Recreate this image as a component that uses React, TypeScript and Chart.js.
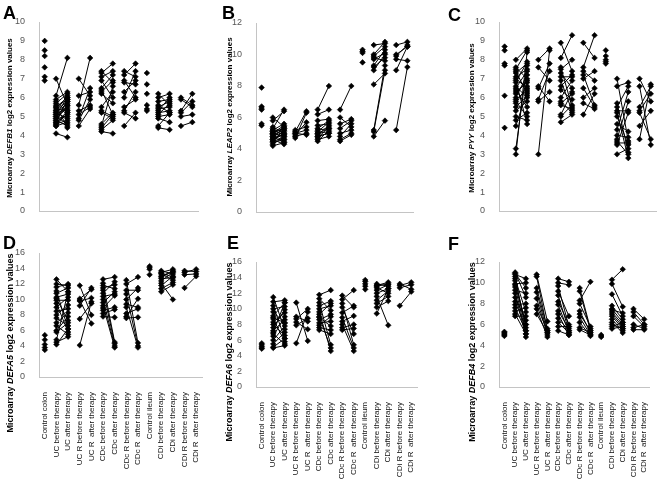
import React, { useEffect, useRef } from "react";
import { Chart, registerables } from "chart.js";

Chart.register(...registerables);

const CATS = [
  "Control colon",
  "UC before therapy",
  "UC after therapy",
  "UC R before therapy",
  "UC R  after therapy",
  "CDc before therapy",
  "CDc after therapy",
  "CDc R before therapy",
  "CDc R  after therapy",
  "Control ileum",
  "CDi before therapy",
  "CDi after therapy",
  "CDi R before therapy",
  "CDi R  after therapy",
];

// ---------- Panel A: DEFB1 ----------
const A_ctrlColon = [9.0, 8.5, 8.2, 7.6, 7.1, 6.9];
const A_ucBefore = [7.0, 6.1, 5.9, 5.8, 5.7, 5.6, 5.5, 5.5, 5.4, 5.3, 5.3, 5.2, 5.2, 5.1, 5.1, 5.0, 5.0, 4.9, 4.9, 4.8, 4.8, 4.7, 4.7, 4.6, 4.6, 4.5, 4.5, 4.1];
const A_ucAfter = [5.6, 8.1, 6.3, 5.2, 6.2, 4.4, 6.0, 5.9, 5.3, 6.1, 5.8, 4.9, 5.7, 6.0, 5.5, 5.4, 4.6, 5.8, 5.0, 5.6, 4.5, 5.9, 5.1, 5.3, 4.8, 4.7, 5.2, 3.9];
const A_ucrBefore = [7.0, 6.1, 5.6, 5.3, 5.1, 4.9, 4.8, 4.5];
const A_ucrAfter = [6.1, 6.3, 8.1, 5.6, 5.5, 6.5, 5.9, 5.4];
const A_cdcBefore = [7.4, 7.3, 7.1, 6.9, 6.5, 6.3, 6.2, 5.5, 5.3, 5.2, 4.6, 4.5, 4.4, 4.3, 4.2, 6.4];
const A_cdcAfter = [6.8, 7.8, 7.4, 6.0, 7.2, 6.9, 5.7, 6.3, 5.0, 4.9, 5.2, 6.6, 5.1, 4.8, 4.1, 5.1];
const A_cdcrBefore = [7.4, 7.2, 6.8, 6.3, 6.0, 5.5, 5.3, 5.2, 4.5, 6.9];
const A_cdcrAfter = [7.1, 7.8, 6.7, 6.9, 7.4, 5.9, 6.3, 4.9, 5.2, 6.0];
const A_ctrlIleum = [7.3, 6.7, 6.2, 5.6, 5.4, 5.3];
const A_cdiBefore = [6.2, 6.0, 5.8, 5.6, 5.5, 5.4, 5.3, 5.2, 5.1, 5.0, 4.9, 4.5, 4.4];
const A_cdiAfter = [5.6, 6.2, 5.9, 5.2, 5.8, 5.5, 6.0, 5.3, 5.7, 5.1, 4.7, 5.2, 4.3];
const A_cdirBefore = [6.0, 5.3, 5.2, 5.0, 4.5, 5.9];
const A_cdirAfter = [5.6, 6.2, 5.8, 5.1, 4.7, 5.5];

// ---------- Panel B: LEAP2 ----------
const B_ctrlColon = [7.9, 6.7, 6.6, 6.5, 5.6, 5.5];
const B_ucBefore = [6.0, 5.8, 5.4, 5.3, 5.2, 5.2, 5.1, 5.1, 5.0, 5.0, 4.9, 4.9, 4.8, 4.8, 4.7, 4.7, 4.6, 4.6, 4.5, 4.5, 4.4, 4.3, 4.2, 5.0];
const B_ucAfter = [5.4, 6.4, 5.0, 6.5, 4.9, 5.6, 4.6, 5.3, 4.8, 5.5, 5.2, 4.5, 5.1, 4.4, 5.4, 4.9, 4.3, 5.0, 5.2, 4.7, 4.6, 4.8, 4.4, 5.3];
const B_ucrBefore = [5.2, 5.1, 5.0, 4.9, 4.8, 4.7, 5.0];
const B_ucrAfter = [5.4, 6.4, 5.2, 5.7, 5.0, 6.3, 4.9];
const B_cdcBefore = [6.5, 6.2, 5.8, 5.5, 5.3, 5.2, 5.1, 5.0, 4.9, 4.8, 4.7, 4.6, 4.5, 5.0, 4.8];
const B_cdcAfter = [8.0, 6.5, 5.9, 5.6, 5.8, 5.3, 5.7, 5.1, 5.5, 5.0, 5.4, 4.8, 5.2, 5.3, 5.0];
const B_cdcrBefore = [6.5, 6.0, 5.6, 5.3, 5.0, 4.8, 4.6, 4.5];
const B_cdcrAfter = [8.0, 5.4, 5.9, 5.8, 5.2, 5.6, 5.0, 4.9];
const B_ctrlIleum = [10.3, 10.2, 10.1, 9.5];
const B_cdiBefore = [10.6, 10.0, 9.9, 9.8, 9.7, 9.3, 9.2, 9.0, 8.1, 5.2, 5.1, 4.8];
const B_cdiAfter = [10.7, 10.8, 10.5, 9.6, 10.1, 10.3, 9.8, 10.0, 8.8, 9.3, 9.0, 5.8];
const B_cdirBefore = [10.6, 10.0, 9.9, 9.7, 9.0, 5.2];
const B_cdirAfter = [10.8, 10.5, 10.6, 9.6, 10.5, 9.2];

// ---------- Panel C: PYY ----------
const C_ctrlColon = [8.7, 8.5, 7.8, 7.7, 6.1, 4.4];
const C_ucBefore = [8.0, 7.6, 7.5, 7.4, 7.3, 7.1, 7.0, 6.8, 6.6, 6.5, 6.4, 6.2, 6.0, 5.9, 5.8, 5.7, 5.5, 5.3, 5.0, 4.8, 4.5, 3.3, 3.0, 6.9, 6.3];
const C_ucAfter = [8.6, 7.0, 8.5, 6.2, 7.8, 7.5, 6.5, 7.9, 6.0, 7.4, 5.5, 6.9, 7.2, 6.4, 5.0, 6.6, 6.1, 5.8, 4.8, 5.2, 6.3, 7.7, 8.4, 4.6, 6.8];
const C_ucrBefore = [8.0, 7.6, 6.5, 5.9, 5.8, 3.0, 6.6];
const C_ucrAfter = [8.6, 6.9, 7.8, 7.4, 6.3, 8.5, 5.8];
const C_cdcBefore = [8.9, 8.1, 7.6, 7.5, 7.3, 7.1, 6.9, 6.6, 6.4, 6.0, 5.8, 5.7, 5.6, 5.1, 5.0, 4.7];
const C_cdcAfter = [7.4, 9.3, 5.5, 8.0, 6.5, 7.1, 5.3, 7.2, 5.9, 6.9, 5.2, 6.2, 5.4, 6.3, 5.6, 5.1];
const C_cdcrBefore = [8.9, 7.6, 7.4, 7.2, 7.0, 6.5, 6.0, 5.7, 5.1];
const C_cdcrAfter = [8.1, 9.3, 6.9, 5.6, 7.4, 5.5, 6.5, 5.4, 6.2];
const C_ctrlIleum = [8.5, 8.2, 8.0, 7.9, 7.8];
const C_cdiBefore = [7.0, 6.6, 5.7, 5.5, 5.3, 5.2, 5.0, 4.6, 4.3, 4.0, 3.8, 3.7, 3.6, 3.5, 3.0];
const C_cdiAfter = [3.7, 6.8, 3.1, 6.6, 5.3, 2.8, 3.5, 4.2, 6.3, 3.9, 5.8, 3.0, 3.6, 5.2, 3.3];
const C_cdirBefore = [7.0, 6.6, 5.5, 5.3, 5.2, 4.5, 3.8];
const C_cdirAfter = [5.8, 3.5, 6.6, 6.2, 3.8, 5.3, 6.7];

// ---------- Panel D: DEFA5 ----------
const D_ctrlColon = [5.4, 4.8, 4.2, 3.8, 3.5];
const D_ucBefore = [12.6, 12.0, 11.6, 11.1, 10.8, 10.3, 10.1, 9.9, 9.5, 9.0, 8.5, 8.0, 7.6, 7.0, 6.6, 6.0, 5.8, 4.8, 4.5, 4.2];
const D_ucAfter = [11.0, 11.8, 12.0, 6.2, 11.5, 10.7, 7.3, 9.9, 5.8, 10.3, 8.8, 9.3, 6.6, 8.3, 5.5, 7.8, 7.0, 11.0, 5.2, 6.2];
const D_ucrBefore = [11.8, 10.1, 9.9, 9.8, 9.2, 7.5, 4.1];
const D_ucrAfter = [8.0, 11.3, 6.9, 10.2, 11.5, 9.5, 9.7];
const D_cdcBefore = [12.6, 12.1, 11.8, 11.5, 11.2, 10.8, 10.4, 10.0, 9.6, 9.2, 8.9, 8.6, 8.2, 7.8];
const D_cdcAfter = [12.9, 4.5, 11.4, 11.9, 4.3, 12.3, 10.7, 4.0, 11.0, 3.8, 10.5, 9.0, 8.7, 7.7];
const D_cdcrBefore = [12.5, 12.0, 11.2, 10.7, 10.0, 9.4, 9.0, 8.2, 7.8, 7.6];
const D_cdcrAfter = [4.4, 12.9, 11.2, 4.0, 11.5, 9.0, 3.8, 8.8, 10.1, 7.7];
const D_ctrlIleum = [14.3, 14.1, 13.9, 13.2];
const D_cdiBefore = [13.7, 13.5, 13.3, 13.0, 12.7, 12.4, 12.1, 11.8, 11.4, 11.0, 12.9, 13.4];
const D_cdiAfter = [13.3, 13.9, 12.5, 13.7, 12.8, 13.5, 10.0, 13.0, 12.2, 11.9, 13.6, 12.9];
const D_cdirBefore = [13.7, 13.5, 13.2, 11.5];
const D_cdirAfter = [13.6, 13.9, 13.3, 13.0];

// ---------- Panel E: DEFA6 ----------
const E_ctrlColon = [5.6, 5.4, 5.2, 5.0, 4.9];
const E_ucBefore = [11.5, 10.9, 10.4, 10.0, 9.6, 9.1, 8.7, 8.3, 8.0, 7.6, 7.2, 6.8, 6.5, 6.0, 5.5, 5.1, 5.0, 8.9, 7.0];
const E_ucAfter = [7.4, 11.1, 6.2, 10.3, 8.2, 10.8, 5.8, 9.5, 6.6, 9.9, 8.6, 5.5, 9.0, 7.8, 7.0, 6.2, 5.3, 8.2, 10.8];
const E_ucrBefore = [10.8, 9.0, 8.7, 8.3, 7.9, 5.6];
const E_ucrAfter = [5.9, 8.4, 10.0, 7.4, 8.8, 9.6];
const E_cdcBefore = [11.8, 11.3, 10.8, 10.4, 10.0, 9.6, 9.3, 9.0, 8.6, 8.2, 7.9, 7.6, 7.3, 8.9];
const E_cdcAfter = [12.4, 9.8, 5.4, 11.0, 10.4, 4.6, 10.7, 5.0, 9.3, 8.4, 9.0, 7.3, 6.8, 7.8];
const E_cdcrBefore = [11.7, 11.2, 10.7, 9.5, 8.9, 8.4, 8.0, 7.6, 7.3, 10.2];
const E_cdcrAfter = [10.2, 12.4, 5.4, 10.4, 5.0, 9.1, 4.6, 8.0, 7.5, 6.8];
const E_ctrlIleum = [13.7, 13.5, 13.2, 12.9, 12.5];
const E_cdiBefore = [13.2, 13.0, 12.7, 12.4, 12.0, 11.6, 11.1, 10.7, 10.2, 9.4, 12.9];
const E_cdiAfter = [12.9, 13.4, 12.0, 13.1, 12.6, 7.9, 12.3, 11.6, 11.0, 12.6, 13.2];
const E_cdirBefore = [13.2, 13.0, 12.7, 10.4];
const E_cdirAfter = [12.5, 13.4, 13.1, 12.2];

// ---------- Panel F: DEFB4 ----------
const F_ctrlColon = [5.3, 5.2, 5.1, 5.0, 4.9];
const F_ucBefore = [11.0, 10.8, 10.6, 10.4, 10.2, 9.9, 9.6, 9.3, 9.0, 8.6, 8.2, 7.9, 7.6, 7.3, 7.0, 6.8, 10.9, 9.8];
const F_ucAfter = [8.6, 10.4, 5.4, 7.2, 6.0, 10.0, 5.1, 9.0, 4.8, 6.4, 5.7, 8.0, 5.4, 7.6, 5.1, 6.8, 9.5, 6.0];
const F_ucrBefore = [10.8, 10.6, 9.5, 9.1, 8.5, 7.8, 7.5, 7.0];
const F_ucrAfter = [6.3, 5.4, 5.6, 5.2, 5.0, 5.4, 4.8, 5.2];
const F_cdcBefore = [10.4, 10.0, 9.7, 9.2, 8.8, 8.2, 7.9, 7.3, 7.0, 6.6, 6.2, 5.8, 5.4];
const F_cdcAfter = [10.1, 9.8, 5.8, 6.8, 5.4, 6.0, 5.2, 5.6, 5.0, 5.4, 5.2, 5.8, 5.0];
const F_cdcrBefore = [9.5, 9.2, 8.3, 8.0, 7.3, 7.0, 6.7, 6.2, 5.7, 5.5];
const F_cdcrAfter = [5.6, 5.4, 10.1, 5.8, 5.2, 5.4, 5.0, 4.9, 5.2, 5.0];
const F_ctrlIleum = [5.0, 4.9, 4.8];
const F_cdiBefore = [10.3, 9.9, 8.9, 7.8, 7.5, 7.2, 7.0, 6.8, 6.5, 6.2, 5.8, 5.6, 7.4, 6.0];
const F_cdiAfter = [11.3, 7.7, 6.8, 6.5, 6.2, 6.0, 5.8, 5.6, 5.4, 5.2, 6.2, 5.8, 7.1, 5.6];
const F_cdirBefore = [7.5, 7.2, 6.8, 6.0, 5.7, 5.5];
const F_cdirAfter = [6.5, 6.0, 5.8, 5.6, 6.0, 5.5];

type PanelCfg = {
  letter: string;
  gene: string;
  left: number;
  top: number;
  w: number;
  h: number;
  ca: [number, number, number, number]; // left, right, top, bottom (canvas coords)
  max: number;
  step: number;
  showX: boolean;
  letterPos: [number, number];
  titlePos: [number, number, number];
  groups: number[][];
};

const PANELS: PanelCfg[] = [
  {
    letter: "A", gene: "DEFB1", left: 0, top: 0, w: 220, h: 230, ca: [39, 198, 22, 211], max: 10, step: 1, showX: false,
    letterPos: [3, 4.3], titlePos: [10, 117.5, 8],
    groups: [A_ctrlColon, A_ucBefore, A_ucAfter, A_ucrBefore, A_ucrAfter, A_cdcBefore, A_cdcAfter, A_cdcrBefore, A_cdcrAfter, A_ctrlIleum, A_cdiBefore, A_cdiAfter, A_cdirBefore, A_cdirAfter],
  },
  {
    letter: "B", gene: "LEAP2", left: 220, top: 0, w: 220, h: 230, ca: [36, 193, 23, 212], max: 12, step: 2, showX: false,
    letterPos: [2, 3.6], titlePos: [10, 117, 8],
    groups: [B_ctrlColon, B_ucBefore, B_ucAfter, B_ucrBefore, B_ucrAfter, B_cdcBefore, B_cdcAfter, B_cdcrBefore, B_cdcrAfter, B_ctrlIleum, B_cdiBefore, B_cdiAfter, B_cdirBefore, B_cdirAfter],
  },
  {
    letter: "C", gene: "PYY", left: 440, top: 0, w: 221, h: 230, ca: [59, 217, 22, 211], max: 10, step: 1, showX: false,
    letterPos: [8, 5.6], titlePos: [32, 118, 8],
    groups: [C_ctrlColon, C_ucBefore, C_ucAfter, C_ucrBefore, C_ucrAfter, C_cdcBefore, C_cdcAfter, C_cdcrBefore, C_cdcrAfter, C_ctrlIleum, C_cdiBefore, C_cdiAfter, C_cdirBefore, C_cdirAfter],
  },
  {
    letter: "D", gene: "DEFA5", left: 0, top: 230, w: 220, h: 255, ca: [39, 202, 23, 147], max: 16, step: 2, showX: true,
    letterPos: [3, 3.6], titlePos: [10, 112.5, 9],
    groups: [D_ctrlColon, D_ucBefore, D_ucAfter, D_ucrBefore, D_ucrAfter, D_cdcBefore, D_cdcAfter, D_cdcrBefore, D_cdcrAfter, D_ctrlIleum, D_cdiBefore, D_cdiAfter, D_cdirBefore, D_cdirAfter],
  },
  {
    letter: "E", gene: "DEFA6", left: 220, top: 230, w: 220, h: 255, ca: [36, 197, 32, 157], max: 16, step: 2, showX: true,
    letterPos: [7, 3.6], titlePos: [9, 122, 9],
    groups: [E_ctrlColon, E_ucBefore, E_ucAfter, E_ucrBefore, E_ucrAfter, E_cdcBefore, E_cdcAfter, E_cdcrBefore, E_cdcrAfter, E_ctrlIleum, E_cdiBefore, E_cdiAfter, E_cdirBefore, E_cdirAfter],
  },
  {
    letter: "F", gene: "DEFB4", left: 440, top: 230, w: 221, h: 255, ca: [59, 217, 32, 157], max: 12, step: 2, showX: true,
    letterPos: [8, 4.6], titlePos: [32, 122, 9],
    groups: [F_ctrlColon, F_ucBefore, F_ucAfter, F_ucrBefore, F_ucrAfter, F_cdcBefore, F_cdcAfter, F_cdcrBefore, F_cdcrAfter, F_ctrlIleum, F_cdiBefore, F_cdiAfter, F_cdirBefore, F_cdirAfter],
  },
];

const FONT = "'Liberation Sans', Arial, sans-serif";

const pointStyleOpts = {
  borderColor: "#000",
  backgroundColor: "#000",
  borderWidth: 1,
  pointStyle: "rectRot" as const,
  pointRadius: 2.8,
  pointBackgroundColor: "#000",
  pointBorderColor: "#000",
  pointBorderWidth: 0.6,
  spanGaps: false,
};

function singleDs(vals: number[], cat: string) {
  return {
    ...pointStyleOpts,
    showLine: false,
    data: vals.map((v) => ({ x: cat, y: v })),
  };
}

function pairDs(before: number[], after: number[], cb: string, ca: string) {
  const data: { x: string; y: number | null }[] = [];
  const n = Math.min(before.length, after.length);
  for (let i = 0; i < n; i++) {
    data.push({ x: cb, y: before[i] });
    data.push({ x: ca, y: after[i] });
    data.push({ x: ca, y: null });
  }
  return { ...pointStyleOpts, showLine: true, data };
}

function buildDatasets(g: number[][]) {
  return [
    singleDs(g[0], CATS[0]),
    pairDs(g[1], g[2], CATS[1], CATS[2]),
    pairDs(g[3], g[4], CATS[3], CATS[4]),
    pairDs(g[5], g[6], CATS[5], CATS[6]),
    pairDs(g[7], g[8], CATS[7], CATS[8]),
    singleDs(g[9], CATS[9]),
    pairDs(g[10], g[11], CATS[10], CATS[11]),
    pairDs(g[12], g[13], CATS[12], CATS[13]),
  ];
}

function Panel({ cfg }: { cfg: PanelCfg }) {
  const ref = useRef<HTMLCanvasElement>(null);
  useEffect(() => {
    if (!ref.current) return;
    const [caL, caR, caT, caB] = cfg.ca;
    const chart = new Chart(ref.current, {
      type: "line",
      data: { labels: CATS, datasets: buildDatasets(cfg.groups) as any },
      options: {
        responsive: false,
        animation: false,
        devicePixelRatio: 1,
        layout: { padding: { left: 0, top: caT, right: cfg.w - caR, bottom: 0 } },
        plugins: { legend: { display: false }, tooltip: { enabled: false } },
        scales: {
          x: {
            type: "category",
            labels: CATS,
            offset: true,
            grid: { display: false },
            border: { display: true, color: "#c4c4c4", width: 1 },
            ticks: {
              display: cfg.showX,
              autoSkip: false,
              minRotation: 90,
              maxRotation: 90,
              padding: 7,
              color: "#111",
              font: { family: FONT, size: 8 },
            },
            afterFit: (s: any) => {
              s.height = cfg.h - caB;
            },
          },
          y: {
            min: 0,
            max: cfg.max,
            grid: { display: false },
            border: { display: true, color: "#c4c4c4", width: 1 },
            ticks: {
              stepSize: cfg.step,
              padding: 6,
              color: "#555",
              font: { family: FONT, size: 9 },
            },
            afterFit: (s: any) => {
              s.width = caL;
            },
          },
        },
      },
    });
    return () => chart.destroy();
  }, [cfg]);

  const [lx, ly] = cfg.letterPos;
  const [tx, ty, tf] = cfg.titlePos;
  return (
    <>
      <canvas
        ref={ref}
        width={cfg.w}
        height={cfg.h}
        style={{ position: "absolute", left: cfg.left, top: cfg.top, width: cfg.w, height: cfg.h }}
      />
      <div
        style={{
          position: "absolute",
          left: cfg.left + lx,
          top: cfg.top + ly,
          fontFamily: FONT,
          fontWeight: "bold",
          fontSize: 18,
          lineHeight: "18px",
          color: "#000",
        }}
      >
        {cfg.letter}
      </div>
      <div
        style={{
          position: "absolute",
          left: cfg.left + tx,
          top: cfg.top + ty,
          transform: "translate(-50%, -50%) rotate(-90deg)",
          whiteSpace: "nowrap",
          fontFamily: FONT,
          fontWeight: "bold",
          fontSize: tf,
          lineHeight: 1,
          color: "#000",
        }}
      >
        Microarray <i>{cfg.gene}</i> log2 expression values
      </div>
    </>
  );
}

export default function App() {
  useEffect(() => {
    document.body.style.margin = "0";
    document.body.style.background = "#fff";
  }, []);
  return (
    <div style={{ position: "absolute", left: 0, top: 0, width: 661, height: 485, background: "#fff", overflow: "hidden" }}>
      {PANELS.map((p) => (
        <Panel key={p.letter} cfg={p} />
      ))}
    </div>
  );
}
